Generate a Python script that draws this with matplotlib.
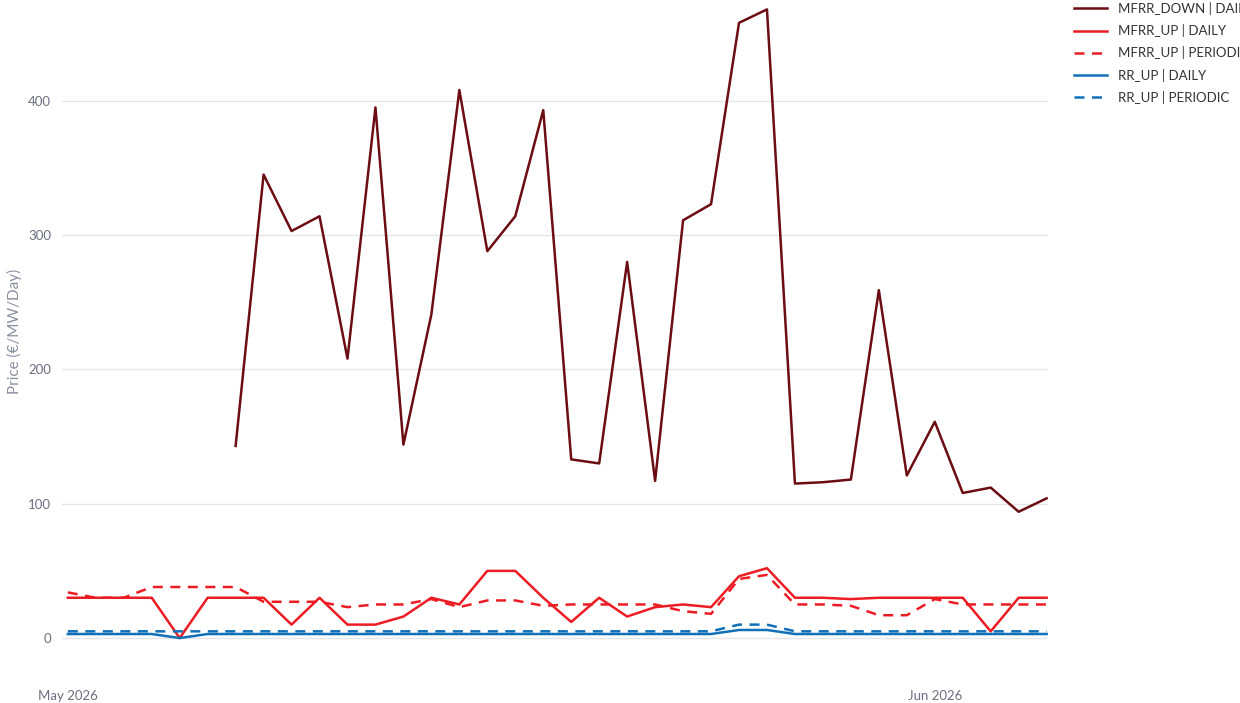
import matplotlib.pyplot as plt
import matplotlib.dates as mdates
import numpy as np
import pandas as pd

plt.rcParams['font.family'] = ['Lato', 'DejaVu Sans']

days = pd.date_range('2026-05-01', periods=36, freq='D')

mfrr_down_daily = [np.nan] * 6 + [143, 345, 303, 314, 208, 395, 144, 241, 408, 288,
                                  314, 393, 133, 130, 280, 117, 311, 323, 458, 468,
                                  115, 116, 118, 259, 121, 161, 108, 112, 94, 104]
mfrr_up_daily = [30, 30, 30, 30, 0, 30, 30, 30, 10, 30, 10, 10, 16, 30, 25, 50, 50, 30,
                 12, 30, 16, 23, 25, 23, 46, 52, 30, 30, 29, 30, 30, 30, 30, 5, 30, 30]
mfrr_up_periodic = [34, 30, 30, 38, 38, 38, 38, 27, 27, 27, 23, 25, 25, 29, 23, 28, 28, 24,
                    25, 25, 25, 25, 20, 18, 44, 47, 25, 25, 24, 17, 17, 29, 25, 25, 25, 25]
rr_up_daily = [3] * 4 + [0] + [3] * 19 + [6, 6] + [3] * 10
rr_up_periodic = [5] * 24 + [10, 10] + [5] * 10

fig = plt.figure(figsize=(12.4, 7.03), dpi=100)
ax = fig.add_axes([0.05, 0.058, 0.795, 0.942])

ax.plot(days, mfrr_down_daily, color='#6b0d12', lw=1.8, label='MFRR_DOWN | DAILY')
ax.plot(days, mfrr_up_daily, color='#ec1c24', lw=1.8, label='MFRR_UP | DAILY')
ax.plot(days, mfrr_up_periodic, color='#ec1c24', lw=1.8, ls=(0, (4, 3)), label='MFRR_UP | PERIODIC')
ax.plot(days, rr_up_daily, color='#1170b8', lw=1.8, label='RR_UP | DAILY')
ax.plot(days, rr_up_periodic, color='#1170b8', lw=1.8, ls=(0, (4, 3)), label='RR_UP | PERIODIC')

ax.set_ylim(-18, 475)
ax.set_xlim(days[0] - pd.Timedelta(hours=5), days[-1] + pd.Timedelta(hours=1))
ax.set_yticks([0, 100, 200, 300, 400])
ax.xaxis.set_major_locator(mdates.MonthLocator())
ax.xaxis.set_major_formatter(mdates.DateFormatter('%b %Y'))
ax.tick_params(length=0, labelsize=9.5, colors='#6b6f80', pad=8)
ax.tick_params(axis='x', pad=20)
ax.grid(axis='y', color='#e6e6e6', lw=1)
for s in ax.spines.values():
    s.set_visible(False)
ax.set_ylabel('Price (€/MW/Day)', color='#8a8fa0', fontsize=11)

ax.legend(loc='upper left', bbox_to_anchor=(1.015, 1.015), frameon=False, fontsize=9.5,
          labelcolor='#333333', handlelength=2.5, handletextpad=0.8, labelspacing=0.7)

plt.savefig('out.png')
